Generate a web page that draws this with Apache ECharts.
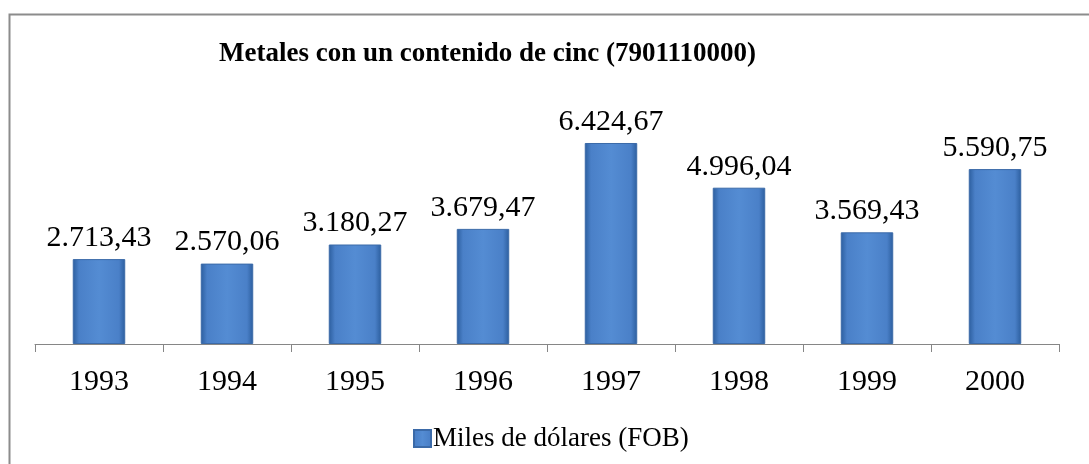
<!DOCTYPE html>
<html>
<head>
<meta charset="utf-8">
<script src="https://cdn.jsdelivr.net/npm/echarts@6/dist/echarts.min.js"></script>
<style>
  html, body { margin: 0; padding: 0; background: #fff; }
  #main { width: 1089px; height: 464px; }
</style>
</head>
<body>
<div id="main"></div>
<script>
// datos
var years = ['1993', '1994', '1995', '1996', '1997', '1998', '1999', '2000'];
var valores = [2713.43, 2570.06, 3180.27, 3679.47, 6424.67, 4996.04, 3569.43, 5590.75];
var serieNombre = 'Miles de dólares (FOB)';

// formato 1.234,56
function fmt(v) {
    var parts = v.toFixed(2).split('.');
    parts[0] = parts[0].replace(/\B(?=(\d{3})+(?!\d))/g, '.');
    return parts[0] + ',' + parts[1];
}

var chart = echarts.init(document.getElementById('main'), null, { renderer: 'canvas' });
var barColor = new echarts.graphic.LinearGradient(0, 0, 1, 0, [
    { offset: 0, color: '#2c5e9e' },
    { offset: 0.12, color: '#4a80c8' },
    { offset: 0.5, color: '#548cd3' },
    { offset: 0.88, color: '#4a80c8' },
    { offset: 1, color: '#2c5e9e' }
]);

var option = {
    backgroundColor: '#fff',
    animation: false,
    graphic: [{
        type: 'rect',
        left: 7,
        top: 12,
        shape: { width: 1100, height: 470 },
        style: { fill: 'none', stroke: '#8c8c8c', lineWidth: 2 },
        z: -1
    }],
    title: {
        text: 'Metales con un contenido de cinc (7901110000)',
        left: 214,
        top: 36,
        textStyle: {
            fontFamily: 'Liberation Serif',
            fontWeight: 'bold',
            fontSize: 27,
            color: '#000'
        }
    },
    legend: {
        left: 408,
        top: 420,
        icon: 'rect',
        itemWidth: 17,
        itemHeight: 17,
        itemGap: 4,
        textStyle: {
            fontFamily: 'Liberation Serif',
            fontSize: 27,
            color: '#000',
            padding: [0, 0, 0, -3]
        },
        data: [serieNombre]
    },
    grid: {
        left: 35,
        right: 30,
        top: 125,
        bottom: 120
    },
    xAxis: {
        type: 'category',
        data: years,
        axisLine: { lineStyle: { color: '#868686', width: 1 } },
        axisTick: { show: true, length: 8, lineStyle: { color: '#868686' } },
        axisLabel: {
            fontFamily: 'Liberation Serif',
            fontSize: 30,
            color: '#000',
            margin: 23
        }
    },
    yAxis: {
        type: 'value',
        min: 0,
        max: 7000,
        show: false,
        splitLine: { show: false }
    },
    series: [{
        name: serieNombre,
        type: 'bar',
        data: valores,
        barWidth: '41%',
        itemStyle: {
            color: barColor,
            borderColor: '#3b6aa8',
            borderWidth: 1
        },
        label: {
            show: true,
            position: 'top',
            distance: 6,
            fontFamily: 'Liberation Serif',
            fontSize: 30,
            color: '#000',
            formatter: function (p) { return fmt(p.value); }
        }
    }]
};
chart.setOption(option);
</script>
</body>
</html>
